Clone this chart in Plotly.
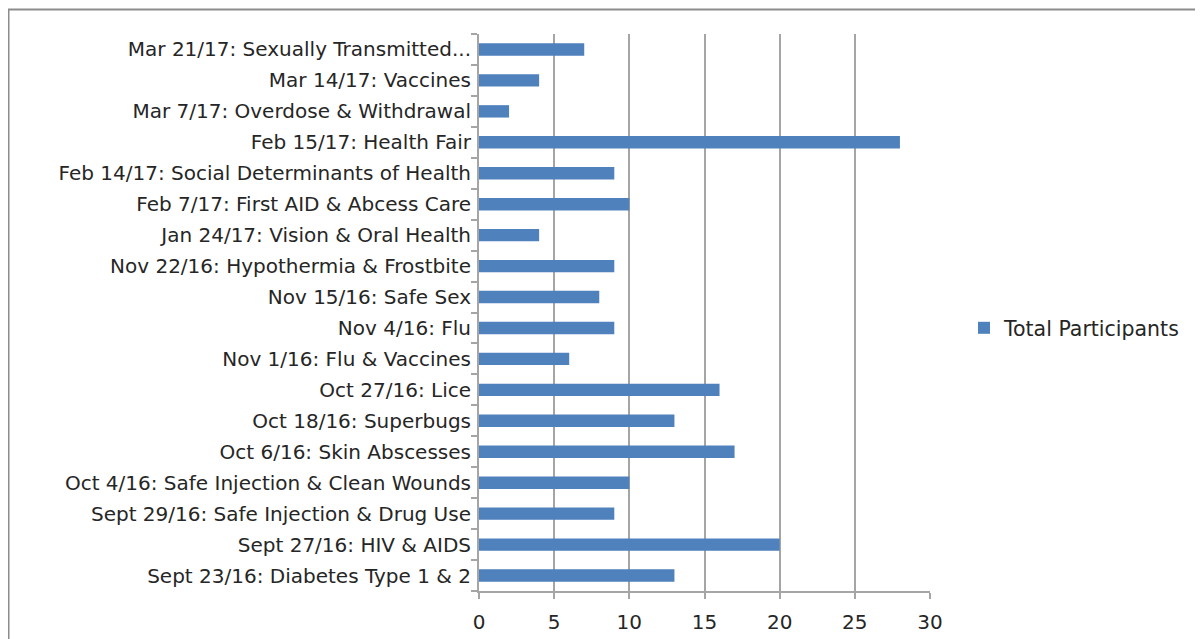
import plotly.graph_objects as go

categories = [
    "Sept 23/16: Diabetes Type 1 & 2",
    "Sept 27/16: HIV & AIDS",
    "Sept 29/16: Safe Injection & Drug Use",
    "Oct 4/16: Safe Injection & Clean Wounds",
    "Oct 6/16: Skin Abscesses",
    "Oct 18/16: Superbugs",
    "Oct 27/16: Lice",
    "Nov 1/16: Flu & Vaccines",
    "Nov 4/16: Flu",
    "Nov 15/16: Safe Sex",
    "Nov 22/16: Hypothermia & Frostbite",
    "Jan 24/17: Vision & Oral Health",
    "Feb 7/17: First AID & Abcess Care",
    "Feb 14/17: Social Determinants of Health",
    "Feb 15/17: Health Fair",
    "Mar 7/17: Overdose & Withdrawal",
    "Mar 14/17: Vaccines",
    "Mar 21/17: Sexually Transmitted...",
]
participants = [13, 20, 9, 10, 17, 13, 16, 6, 9, 8, 9, 4, 10, 9, 28, 2, 4, 7]
x_ticks = [0, 5, 10, 15, 20, 25, 30]

OFF = 8  # page body margin
W, H = 1195, 631
L, R, T, B = 479 - OFF, 930 - OFF, 33.5 - OFF, 591.5 - OFF
pw, ph = R - L, B - T

def px_x(p):
    return (p - OFF - L) / pw

def px_y(p):
    return (B - (p - OFF)) / ph

FONT = "DejaVu Sans, Liberation Sans, sans-serif"
GRID = "#A5A5A5"

fig = go.Figure()
fig.add_trace(go.Bar(
    y=categories, x=participants, orientation="h",
    name="Total Participants",
    marker=dict(color="#4F81BD", line=dict(width=0)),
    showlegend=True,
))

fig.update_layout(
    width=W, height=H,
    margin=dict(l=L, r=W - R, t=T, b=H - B, autoexpand=False),
    paper_bgcolor="white", plot_bgcolor="white",
    font=dict(family=FONT, size=20, color="#262626"),
    bargap=0.6,
    showlegend=True,
    legend=dict(x=px_x(964), y=px_y(328), xanchor="left", yanchor="middle",
                font=dict(size=20.5), bgcolor="rgba(0,0,0,0)"),
    xaxis=dict(range=[0, 30], tickvals=x_ticks, showgrid=True, gridcolor=GRID,
               gridwidth=2, showline=True, linecolor=GRID, linewidth=2,
               ticks="outside", ticklen=6, tickcolor=GRID, tickwidth=2, zeroline=False,
               ticklabelstandoff=6, fixedrange=True),
    yaxis=dict(type="category", categoryorder="array", categoryarray=categories,
               showgrid=False, showline=True, linecolor=GRID, linewidth=2,
               ticks="outside", ticklen=6, tickcolor=GRID, tickwidth=2,
               tickson="boundaries", ticklabelstandoff=2,
               range=[-0.5, len(categories) - 0.5], fixedrange=True),
    shapes=[dict(type="rect", xref="paper", yref="paper",
                 x0=px_x(8.5), x1=px_x(1230), y0=px_y(680), y1=px_y(9),
                 line=dict(color="#8C8C8C", width=2), fillcolor="rgba(0,0,0,0)",
                 layer="below")],
)

fig.write_html("out.html")
